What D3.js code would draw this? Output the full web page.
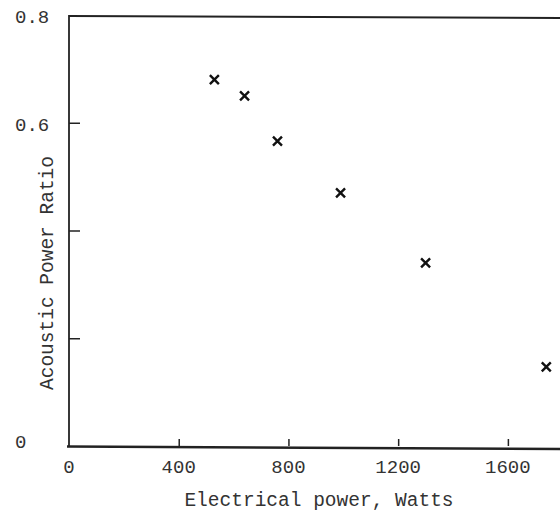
<!DOCTYPE html>
<html>
<head>
<meta charset="utf-8">
<script src="https://cdn.jsdelivr.net/npm/d3@7"></script>
<style>
  body { margin: 0; background: #fff; }
  text { font-family: "Liberation Mono", "DejaVu Sans Mono", monospace; fill: #333; }
</style>
</head>
<body>
<div id="chart"></div>
<script>
var svgWidth = 560;
var svgHeight = 513;

// data
var electricalPower = [530, 640, 760, 990, 1300, 1740];
var acousticRatio = [0.68, 0.65, 0.566, 0.47, 0.34, 0.147];

var xTicks = [400, 800, 1200, 1600];
var xTickLabels = [0, 400, 800, 1200, 1600];
var yTicks = [0.2, 0.4, 0.6];
var yTickLabels = [0, 0.6, 0.8];

var svg = d3.select("#chart")
  .append("svg")
  .attr("width", svgWidth)
  .attr("height", svgHeight);

var xScale = d3.scaleLinear()
  .domain([0, 1790])
  .range([69, 560]);

var yScale = d3.scaleLinear()
  .domain([0, 0.8])
  .range([446, 15]);

// x axis, ticks pointing up into the plot
var bottomAxis = d3.axisBottom(xScale)
  .tickValues(xTicks)
  .tickSizeInner(-7)
  .tickSizeOuter(0)
  .tickFormat("");

var xAxis = svg.append("g")
  .attr("transform", `translate(0, ${yScale(0)})`)
  .call(bottomAxis);
xAxis.select(".domain").remove();
xAxis.selectAll("line").attr("stroke", "#222").attr("stroke-width", 1.5);

// y axis, ticks pointing right
var leftAxis = d3.axisLeft(yScale)
  .tickValues(yTicks)
  .tickSizeInner(-11)
  .tickSizeOuter(0)
  .tickFormat("");

var yAxis = svg.append("g")
  .attr("transform", `translate(${xScale(0)}, 0)`)
  .call(leftAxis);
yAxis.select(".domain").remove();
yAxis.selectAll("line").attr("stroke", "#222").attr("stroke-width", 1.5);

// frame lines (left, top, bottom - no right side)
svg.append("line")
  .attr("x1", xScale(0)).attr("x2", xScale(0))
  .attr("y1", yScale(0.8)).attr("y2", yScale(0))
  .attr("stroke", "#222").attr("stroke-width", 1.8);

svg.append("line")
  .attr("x1", xScale(0)).attr("x2", svgWidth)
  .attr("y1", yScale(0.8) + 1).attr("y2", yScale(0.8) + 3)
  .attr("stroke", "#222").attr("stroke-width", 2);

svg.append("line")
  .attr("x1", xScale(0) - 2).attr("x2", svgWidth)
  .attr("y1", yScale(0) + 0.5).attr("y2", yScale(0) + 3)
  .attr("stroke", "#222").attr("stroke-width", 2.4);

// tick labels
svg.selectAll(".xlabel")
  .data(xTickLabels)
  .enter()
  .append("text")
  .attr("class", "xlabel")
  .attr("x", d => xScale(d))
  .attr("y", yScale(0) + 27)
  .attr("text-anchor", "middle")
  .attr("font-size", "19px")
  .text(d => d);

svg.selectAll(".ylabel")
  .data(yTickLabels)
  .enter()
  .append("text")
  .attr("class", "ylabel")
  .attr("x", 15)
  .attr("y", d => yScale(d) + (d === 0 ? 2 : 8))
  .attr("font-size", "19px")
  .text(d => d);

// axis titles
svg.append("text")
  .attr("x", 319)
  .attr("y", 506)
  .attr("text-anchor", "middle")
  .attr("font-size", "19.5px")
  .text("Electrical power, Watts");

svg.append("text")
  .attr("transform", "translate(53, 273) rotate(-90)")
  .attr("text-anchor", "middle")
  .attr("font-size", "19.5px")
  .text("Acoustic Power Ratio");

// x markers
var points = electricalPower.map((p, i) => ({ x: p, y: acousticRatio[i] }));

svg.selectAll(".mark")
  .data(points)
  .enter()
  .append("path")
  .attr("class", "mark")
  .attr("transform", d => `translate(${xScale(d.x)}, ${yScale(d.y)})`)
  .attr("d", "M-4.5,-4.5L4.5,4.5M-4.5,4.5L4.5,-4.5")
  .attr("stroke", "#111")
  .attr("stroke-width", 2.4)
  .attr("fill", "none");
</script>
</body>
</html>
